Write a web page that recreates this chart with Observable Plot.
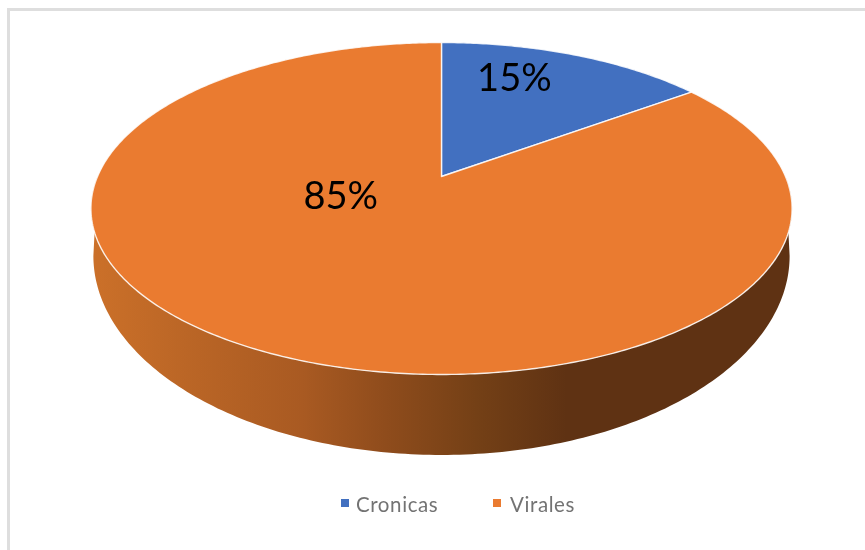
<!DOCTYPE html>
<html>
<head>
<meta charset="utf-8">
<script src="https://cdn.jsdelivr.net/npm/d3@7"></script>
<script src="https://cdn.jsdelivr.net/npm/@observablehq/plot@0.6"></script>
<style>
html,body{margin:0;padding:0;background:#fff;overflow:hidden;}
#page{position:relative;width:865px;height:550px;overflow:hidden;background:#fff;}
#frame{position:absolute;left:7px;top:8px;width:880px;height:570px;border:3px solid #dedede;box-sizing:border-box;filter:blur(.5px);}
#chart{position:absolute;left:0;top:0;filter:blur(.55px);}
#chart svg{display:block;background:transparent;}
#legend{position:absolute;left:0;top:490px;width:865px;height:28px;font-family:Lato,sans-serif;font-size:20.5px;color:#737373;filter:blur(.7px);}
#legend span.sw{position:absolute;top:9px;width:8px;height:8px;}
#legend span.lb{position:absolute;top:1px;line-height:26px;letter-spacing:.6px;}
</style>
</head>
<body>
<div id="page">
<div id="frame"></div>
<div id="chart"></div>
<div id="legend"></div>
</div>
<script>
const categories = ["Cronicas", "Virales"];
const values = [15, 85];
const labels = ["15%", "85%"];
const colors = ["#4270c0", "#ea7b30"];

// pie seen in perspective: disk coordinates (X, Y) -> screen units
const k = 0.1928;
const project = (X, Y) => ({px: X / (1 + k * Y), py: Y / (1 + k * Y)});
const total = d3.sum(values);

function slicePath(a0, a1) {
  const n = Math.max(2, Math.ceil((a1 - a0) * 90));
  const pts = [project(0, 0)];
  for (let i = 0; i <= n; i++) {
    const a = a0 + (a1 - a0) * i / n;
    pts.push(project(Math.sin(a), Math.cos(a)));
  }
  pts.push(project(0, 0));
  return pts;
}

let acc = 0;
const slices = categories.map((name, i) => {
  const a0 = acc / total * 2 * Math.PI;
  acc += values[i];
  const a1 = acc / total * 2 * Math.PI;
  return {name, color: colors[i], a0, a1, label: labels[i], points: slicePath(a0, a1).map(p => ({...p, name}))};
});

// outer wall: visible front between the rim and the base of the disk
const baseCy = -0.497, baseRx = 1.012, baseRy = 1.2454;
const base = [];
for (let i = 0; i <= 180; i++) {
  const t = (Math.PI * i) / 180;
  base.push({px: baseRx * Math.cos(t), py: baseCy - baseRy * Math.sin(t)});
}
const rimFront = [];
for (let i = 0; i <= 180; i++) {
  const a = -Math.PI / 2 - (Math.PI * i) / 180;
  rimFront.push(project(Math.sin(a), Math.cos(a)));
}
const wallPoly = [...rimFront.filter(p => p.py < 0.16), ...base];

const labelOffsets = [[-5.6, -26.5], [-6, -66.5]];

function labelPoint(s) {
  const mid = (s.a0 + s.a1) / 2;
  return project(0.55 * Math.sin(mid), 0.55 * Math.cos(mid));
}

const defs = () => {
  const svg = d3.create("svg:defs");
  const g = svg.append("linearGradient")
    .attr("id", "wallGrad").attr("gradientUnits", "userSpaceOnUse")
    .attr("x1", 93).attr("x2", 789).attr("y1", 0).attr("y2", 0);
  [[0, "#cb7029"], [0.13, "#bb6626"], [0.3, "#a95a22"], [0.42, "#8f4c1c"], [0.55, "#744016"], [0.68, "#5f3213"], [1, "#5f3213"]]
    .forEach(([o, c]) => g.append("stop").attr("offset", o).attr("stop-color", c));
  return svg.node();
};

const plot = Plot.plot({
  width: 865,
  height: 480,
  margin: 0,
  style: {background: "transparent"},
  x: {domain: [-1, 1], range: [97, 785], axis: null},
  y: {domain: [-1, 1], range: [335.8, 16.2], axis: null},
  marks: [
    defs,
    Plot.line(wallPoly, {x: "px", y: "py", fill: "url(#wallGrad)", stroke: "none", curve: "linear"}),
    ...slices.map(s => Plot.line(s.points, {x: "px", y: "py", fill: s.color, stroke: "#fff", strokeOpacity: 0.85, strokeWidth: 1.4, curve: "linear", strokeLinejoin: "round"})),
    ...slices.map((s, i) => {
      const p = labelPoint(s);
      return Plot.text([s.label], {x: () => p.px, y: () => p.py, dx: labelOffsets[i][0], dy: labelOffsets[i][1],
        text: d => d, fontFamily: "Lato, sans-serif", fontSize: 38, fill: "#000", textAnchor: "middle", lineAnchor: "middle"});
    })
  ]
});
document.getElementById("chart").appendChild(plot);

const legend = document.getElementById("legend");
const swatchLeft = [341, 493], textLeft = [356, 510];
categories.forEach((name, i) => {
  const sw = document.createElement("span");
  sw.className = "sw"; sw.style.left = swatchLeft[i] + "px"; sw.style.background = colors[i];
  const lb = document.createElement("span");
  lb.className = "lb"; lb.style.left = textLeft[i] + "px"; lb.textContent = name;
  legend.append(sw, lb);
});
</script>
</body>
</html>
